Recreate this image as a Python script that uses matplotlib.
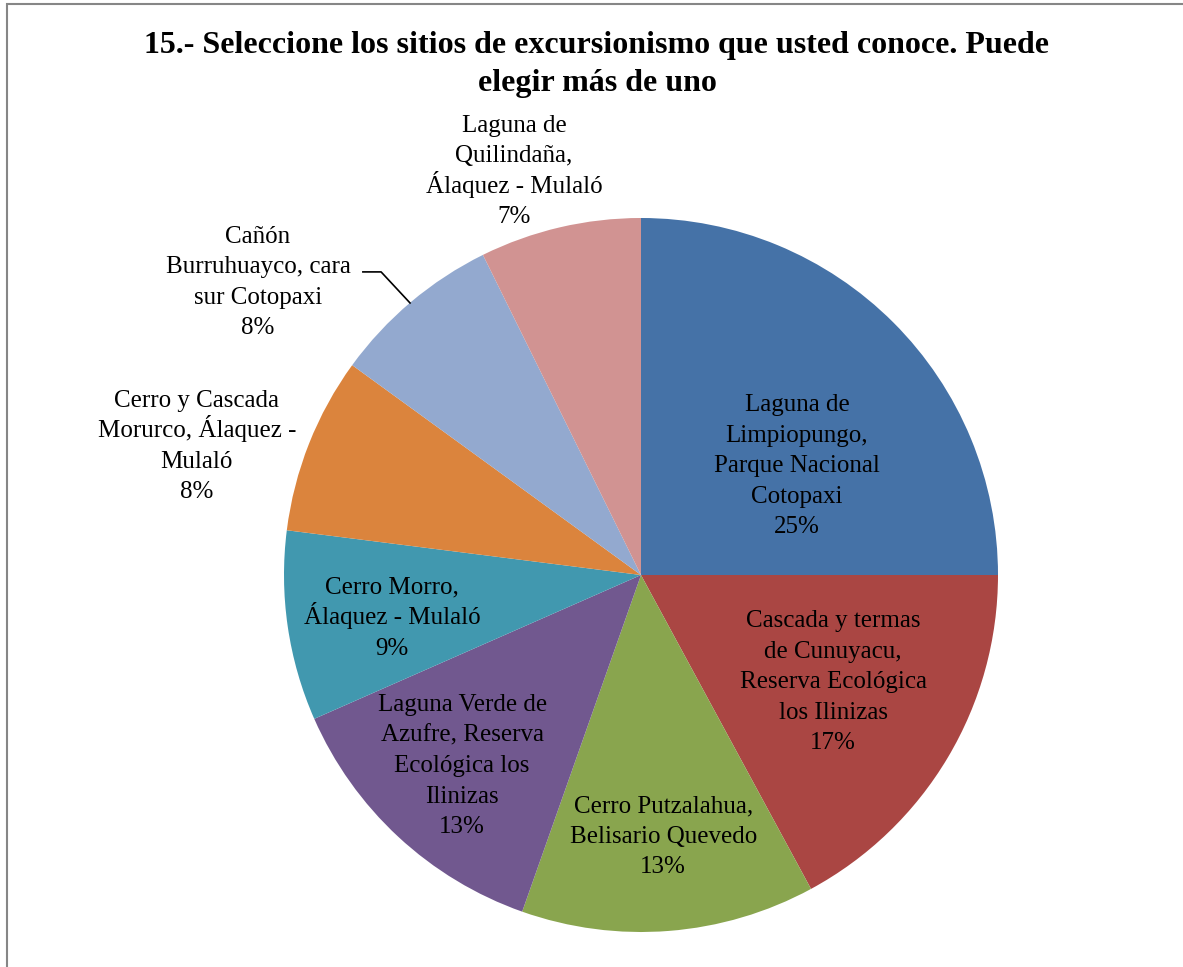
import matplotlib
matplotlib.use('Agg')
from matplotlib import pyplot as plt
from matplotlib.patches import Rectangle

# --- Data

labels = [
    'Laguna de\nLimpiopungo,\nParque Nacional\nCotopaxi',
    'Cascada y termas\nde Cunuyacu,\nReserva Ecológica\nlos Ilinizas',
    'Cerro Putzalahua,\nBelisario Quevedo',
    'Laguna Verde de\nAzufre, Reserva\nEcológica los\nIlinizas',
    'Cerro Morro,\nÁlaquez - Mulaló',
    'Cerro y Cascada\nMorurco, Álaquez -\nMulaló',
    'Cañón\nBurruhuayco, cara\nsur Cotopaxi',
    'Laguna de\nQuilindaña,\nÁlaquez - Mulaló',
]
shares = [25.0, 17.1, 13.3, 13.0, 8.6, 8.0, 7.7, 7.3]
title = '15.- Seleccione los sitios de excursionismo que usted conoce. Puede\nelegir más de uno'

# --- Style

colors = ['#4572A7', '#AA4643', '#89A54E', '#71588F',
          '#4198AF', '#DB843D', '#93A9CF', '#D19392']
# label anchor: centre x and first baseline, relative to pie (unit radius)
label_pos = [(0.437, 0.459), (0.538, -0.146), (0.062, -0.664), (-0.501, -0.381),
             (-0.697, -0.053), (-1.244, 0.471), (-1.073, 0.930), (-0.356, 1.241)]
LINE_PX = 30.5

plt.rcParams['font.family'] = ['Liberation Serif', 'DejaVu Serif']

fig = plt.figure(figsize=(11.83, 9.67), dpi=100)
# chart frame (right and bottom fall outside the picture)
fig.patches.append(Rectangle((7 / 1183, -0.1), 1.2, 1 - 4 / 967 + 0.1,
                             transform=fig.transFigure, fill=False,
                             edgecolor='#868686', linewidth=1.5))

# pie centre at (641, 575) px, radius 357 px
cx, cy, r = 641 / 1183, 1 - 575 / 967, 357
ax = fig.add_axes([cx - r / 1183, cy - r / 967, 2 * r / 1183, 2 * r / 967])
ax.pie(shares, colors=colors, startangle=90, counterclock=False,
       wedgeprops=dict(linewidth=0))
ax.set_xlim(-1, 1)
ax.set_ylim(-1, 1)
ax.set_aspect('auto')
ax.axis('off')

# one text per line so accents don't stretch the spacing
for lab, val, (x, y) in zip(labels, shares, label_pos):
    lines = lab.split('\n') + ['%.0f%%' % val]
    for i, line in enumerate(lines):
        ax.annotate(line, xy=(x, y), xytext=(0, -i * LINE_PX),
                    textcoords='offset pixels', ha='center', va='baseline',
                    fontsize=18, annotation_clip=False)

# leader line for the Cañón label
ax.plot([-0.779, -0.728, -0.647], [0.849, 0.849, 0.762], color='black',
        linewidth=1.2, clip_on=False)

for i, line in enumerate(title.split('\n')):
    fig.text(597 / 1183, 1 - (53 + 38 * i) / 967, line, ha='center', va='baseline',
             fontsize=23, fontweight='bold')

fig.savefig('out.png', dpi=100)
